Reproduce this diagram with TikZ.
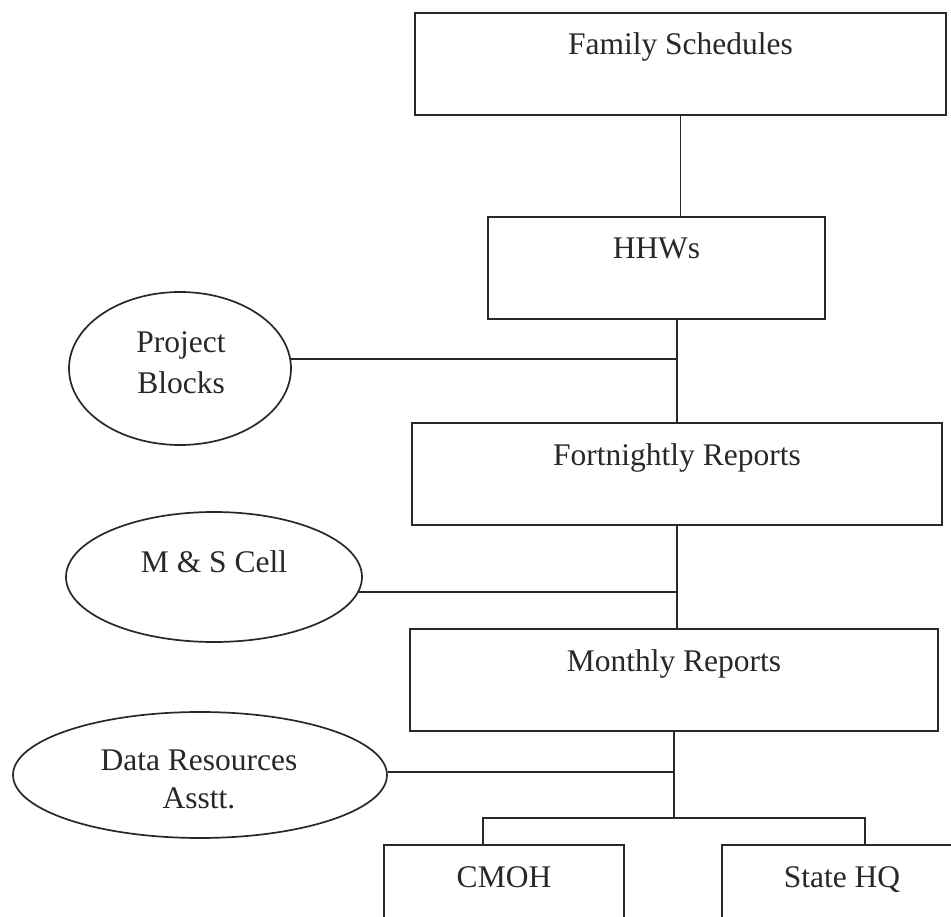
\documentclass[tikz,border=0pt]{standalone}
\usepackage{fontspec}
\setmainfont{Liberation Serif}
\usetikzlibrary{shapes.geometric}
\definecolor{ink}{RGB}{40,40,40}
\begin{document}
\begin{tikzpicture}[x=1pt,y=-1pt,
  every node/.style={font=\fontsize{31.5}{38}\selectfont, text=ink},
  box/.style={draw=ink, line width=1.7pt, rectangle, inner xsep=0pt, inner ysep=0pt, text height=42pt, text depth=60pt},
  ell/.style={draw=ink, line width=1.7pt, ellipse, inner sep=0pt},
  lbl/.style={anchor=base, inner sep=0pt},
  conn/.style={draw=ink, line width=1.7pt}]
\clip (0,0) rectangle (951,917);
\fill[white] (0,0) rectangle (951,917);
% boxes
\node[box, minimum width=531pt] (FS) at (680.5,64) {Family Schedules};
\node[box, minimum width=337pt] (HH) at (656.5,268) {HHWs};
\node[box, minimum width=530pt] (FR) at (677,474) {Fortnightly Reports};
\node[box, minimum width=528pt] (MR) at (674,680) {Monthly Reports};
\node[box, minimum width=240pt] (CM) at (504,896) {CMOH};
\node[box, minimum width=240pt] (SH) at (842,896) {State HQ};
% ellipses
\node[ell, minimum width=222pt, minimum height=153pt] (PB) at (180,368.5) {};
\node[lbl] (PBa) at (181,353) {Project};
\node[lbl] (PBb) at (181,393) {Blocks};
\node[ell, minimum width=296pt, minimum height=130pt] (MS) at (214,577) {};
\node[lbl] (MSa) at (214,572) {M \& S Cell};
\node[ell, minimum width=374pt, minimum height=126pt] (DR) at (200,775) {};
\node[lbl] (DRa) at (199,770) {Data Resources};
\node[lbl] (DRb) at (199,808) {Asstt.};
% connectors
\draw[conn] (FS.south) -- (FS.south |- HH.north);
\draw[conn] (FR.north |- HH.south) -- (FR.north);
\draw[conn] (FR.south) -- (FR.south |- MR.north);
\draw[conn] (PB.5) -- (PB.5 -| FR.north);
\draw[conn] (MS.-6) -- (MS.-6 -| FR.south);
\draw[conn] (DR.1) -- (DR.1 -| MR.south);
\coordinate (bl) at (483,818);
\coordinate (br) at (865,818);
\draw[conn] (MR.south) -- (MR.south |- bl);
\draw[conn] (CM.north -| bl) -- (bl) -- (br) -- (SH.north -| br);
\end{tikzpicture}
\end{document}
